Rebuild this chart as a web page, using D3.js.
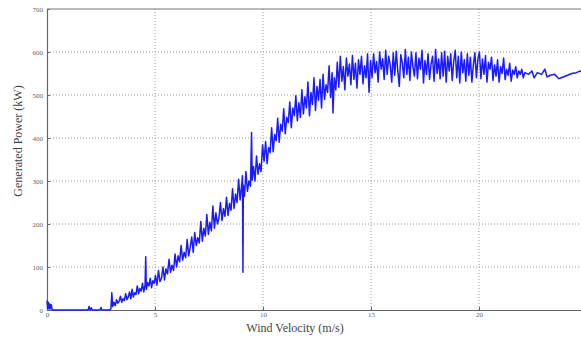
<!DOCTYPE html>
<html>
<head>
<meta charset="utf-8">
<script src="https://cdn.jsdelivr.net/npm/d3@7"></script>
<style>
  html, body { margin: 0; padding: 0; background: #fff; }
  svg { display: block; }
</style>
</head>
<body>
<div id="chart"></div>
<script>
// ---- data ----
const xTicks = [0, 5, 10, 15, 20];
const yTicks = [0, 100, 200, 300, 400, 500, 600, 700];

// cut-in region
const startupWind = [0,0.03,0.06,0.1,0.13,0.17,0.2,0.24,0.35,1.9,1.95,2.0,2.05,2.1,2.45,2.5,2.55,2.9,2.96,3.0,3.04,3.1,3.16,3.22,3.28,3.34,3.4,3.46,3.52,3.58,3.64,3.7,3.76,3.82,3.88,3.94,4.0,4.06,4.12,4.18,4.24,4.3,4.36,4.42,4.48,4.54,4.57,4.6,4.66,4.72,4.78,4.84,4.9,4.96];
const startupPower = [22,4,18,2,14,3,12,0,0,0,8,0,5,0,0,6,0,0,3,40,8,18,10,24,16,20,32,18,26,22,38,24,30,42,26,48,30,40,36,56,38,50,44,62,42,58,124,48,64,56,74,52,68,62];

// steep ramp 5..10 m/s
const rampWind = [5.02,5.09,5.16,5.23,5.30,5.37,5.44,5.51,5.58,5.65,5.72,5.79,5.86,5.93,6.00,6.07,6.14,6.21,6.28,6.35,6.42,6.49,6.56,6.63,6.70,6.77,6.84,6.91,6.98,7.05,7.12,7.19,7.26,7.33,7.40,7.47,7.54,7.61,7.68,7.75,7.82,7.89,7.96,8.03,8.10,8.17,8.24,8.31,8.38,8.45,8.52,8.59,8.66,8.73,8.80,8.87,8.94,9.01,9.05,9.07,9.09,9.14,9.21,9.28,9.35,9.42,9.47,9.50,9.56,9.63,9.70,9.77,9.84,9.91,9.98];
const rampPower = [80,58,92,66,74,100,70,96,84,118,88,104,92,130,100,126,112,150,116,134,122,164,126,146,170,134,180,150,168,156,206,160,190,172,222,176,204,184,242,190,226,200,214,250,208,236,218,262,220,248,232,282,236,270,250,304,256,290,312,88,290,264,322,276,300,288,413,302,334,300,358,316,340,322,384];

// knee 10..15 m/s
const kneeWind = [10.05,10.12,10.19,10.26,10.33,10.40,10.47,10.54,10.61,10.68,10.75,10.82,10.89,10.96,11.03,11.10,11.17,11.24,11.31,11.38,11.45,11.52,11.59,11.66,11.73,11.80,11.87,11.94,12.01,12.08,12.15,12.22,12.29,12.36,12.43,12.50,12.57,12.64,12.71,12.78,12.85,12.92,12.99,13.06,13.13,13.20,13.24,13.30,13.37,13.44,13.51,13.58,13.65,13.72,13.79,13.86,13.93,14.00,14.07,14.14,14.21,14.28,14.35,14.42,14.49,14.56,14.63,14.70,14.77,14.84,14.91,14.98];
const kneePower = [346,392,340,378,366,424,368,408,394,446,390,432,416,468,410,448,436,484,424,470,452,498,440,482,448,512,456,496,470,530,452,506,478,540,464,520,488,536,470,548,490,524,506,568,494,552,458,540,512,576,518,590,532,566,512,586,544,572,524,592,536,574,516,582,548,590,526,568,540,596,506,580];

// rated plateau 15..20 m/s
const plateauWind = [15.05,15.12,15.19,15.26,15.33,15.40,15.47,15.54,15.61,15.68,15.75,15.82,15.89,15.96,16.03,16.10,16.17,16.24,16.31,16.38,16.45,16.52,16.59,16.66,16.73,16.80,16.87,16.94,17.01,17.08,17.15,17.22,17.29,17.36,17.43,17.50,17.57,17.64,17.71,17.78,17.85,17.92,17.99,18.06,18.13,18.20,18.27,18.34,18.41,18.48,18.55,18.62,18.69,18.76,18.83,18.90,18.97,19.04,19.11,19.18,19.25,19.32,19.39,19.46,19.53,19.60,19.67,19.74,19.81,19.88,19.95];
const plateauPower = [540,596,552,578,530,600,560,584,536,604,548,590,570,530,598,546,602,556,520,594,574,540,606,548,588,534,600,566,544,598,538,586,560,604,528,580,548,596,536,572,590,532,606,550,584,538,598,544,602,530,590,556,596,534,578,604,540,590,528,600,552,582,532,596,546,588,530,570,598,540,584];

// high wind, noise dying out
const highWind = [20.02,20.09,20.16,20.23,20.30,20.37,20.44,20.51,20.58,20.65,20.72,20.79,20.86,20.93,21.00,21.07,21.14,21.21,21.28,21.35,21.42,21.49,21.56,21.63,21.70,21.77,21.84,21.91,21.98,22.05,22.12];
const highPower = [600,538,584,548,592,530,576,560,588,534,570,544,582,530,566,550,586,536,560,546,574,532,558,548,566,540,556,548,560,540,552];

// smooth tail
const tailWind = [22.3,22.45,22.55,22.7,22.9,23.05,23.15,23.3,23.5,23.7,23.9,24.1,24.3,24.5,24.7,24.8];
const tailPower = [548,556,540,552,548,560,542,546,548,538,542,546,550,552,556,552];

const windSpeed = [].concat(startupWind, rampWind, kneeWind, plateauWind, highWind, tailWind);
const powerKW = [].concat(startupPower, rampPower, kneePower, plateauPower, highPower, tailPower);
const points = windSpeed.map((v, i) => ({ v: v, p: powerKW[i] }));

// ---- layout ----
const width = 581;
const height = 340;
const plot = { left: 47, right: 587, top: 9, bottom: 310 };

const svg = d3.select("#chart")
    .append("svg")
    .attr("width", width)
    .attr("height", height)
    .style("font-family", "'Liberation Serif', 'Times New Roman', serif");

const x = d3.scaleLinear().domain([0, 25]).range([plot.left, plot.right]);
const y = d3.scaleLinear().domain([0, 700]).range([plot.bottom, plot.top]);

//Grid lines
svg.append("g")
    .selectAll("line")
    .data(xTicks.filter(d => d > 0))
    .enter().append("line")
    .attr("x1", d => x(d)).attr("x2", d => x(d))
    .attr("y1", plot.top).attr("y2", plot.bottom)
    .attr("stroke", "#9a9a9a")
    .attr("stroke-width", 1)
    .attr("stroke-dasharray", "1,2");

svg.append("g")
    .selectAll("line")
    .data(yTicks.filter(d => d > 0 && d < 700))
    .enter().append("line")
    .attr("x1", plot.left).attr("x2", plot.right)
    .attr("y1", d => y(d)).attr("y2", d => y(d))
    .attr("stroke", "#9a9a9a")
    .attr("stroke-width", 1)
    .attr("stroke-dasharray", "1,2");

//Axes
const xAxis = svg.append("g")
    .attr("transform", `translate(0,${plot.bottom})`)
    .call(d3.axisBottom(x).tickValues(xTicks).tickSize(-3).tickPadding(2).tickFormat(d3.format("d")));
const yAxis = svg.append("g")
    .attr("transform", `translate(${plot.left},0)`)
    .call(d3.axisLeft(y).tickValues(yTicks).tickSize(-3).tickPadding(4).tickFormat(d3.format("d")));

[xAxis, yAxis].forEach(a => {
    a.select(".domain").attr("stroke", "#666").attr("stroke-width", 1.2);
    a.selectAll(".tick line").attr("stroke", "#666");
    a.selectAll(".tick text")
        .attr("fill", "#666")
        .style("font-size", "7px")
        .style("font-family", "'Liberation Serif', serif");
});

//Top frame
svg.append("line")
    .attr("x1", plot.left).attr("x2", plot.right)
    .attr("y1", plot.top).attr("y2", plot.top)
    .attr("stroke", "#777")
    .attr("stroke-width", 1.2);

//Power curve
const line = d3.line()
    .x(d => x(d.v))
    .y(d => y(d.p));

svg.append("path")
    .datum(points)
    .attr("fill", "none")
    .attr("stroke", "#1a1aff")
    .attr("stroke-width", 1.5)
    .attr("stroke-linejoin", "round")
    .attr("d", line);

//Axis titles
svg.append("text")
    .attr("x", 295)
    .attr("y", 332)
    .attr("text-anchor", "middle")
    .attr("fill", "#444")
    .style("font-size", "12px")
    .text("Wind Velocity (m/s)");

svg.append("text")
    .attr("transform", "translate(22,141) rotate(-90)")
    .attr("text-anchor", "middle")
    .attr("fill", "#444")
    .style("font-size", "12px")
    .text("Generated Power (kW)");
</script>
</body>
</html>
